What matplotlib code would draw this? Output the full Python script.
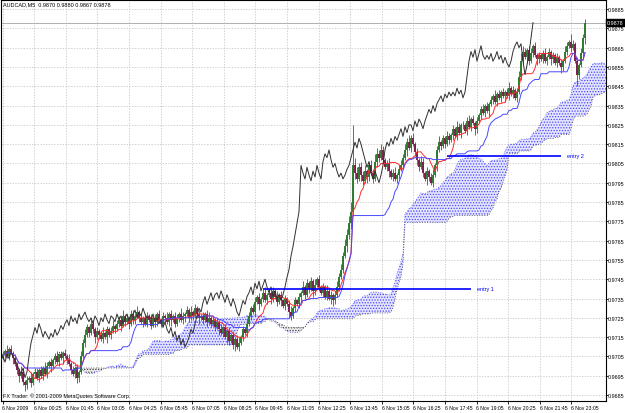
import numpy as np
import pandas as pd
import matplotlib
matplotlib.use("Agg")
import matplotlib.pyplot as plt

plt.rcParams["font.family"] = ["Liberation Sans Narrow", "Liberation Sans", "DejaVu Sans"]
plt.rcParams["hatch.linewidth"] = 0.6

# AUDCAD M5 closes, pips above 0.9700
closes = [
    6, 8, 5, 9, 7, 4, 1, -2, -5, -3, -8, -10, -7, -6, -9, -4,
    -3, -6, -2, -5, -1, -4, 0, 2, 0, 3, 5, 2, 6, 4, 7, 5, 3,
    1, -2, -4, -1, -6, -3, 5, 12, 16, 20, 17, 22, 19, 15, 18, 16,
    14, 17, 15, 19, 16, 18, 21, 19, 22, 24, 21, 26, 23, 25, 22, 27, 24, 26, 28, 25,
    23, 25, 22, 26, 24, 21, 25, 23, 27, 24, 22, 26, 25, 23, 27, 24, 26, 22, 25, 27, 24, 26,
    27, 29, 25, 28, 26, 30, 27, 25, 26, 24, 27, 23, 25, 22, 24, 20, 23, 19,
    17, 20, 15, 18, 13, 16, 11, 14, 10, 12, 15, 19, 17, 22,
    26, 30, 28, 33, 36, 32, 35, 38, 34, 37, 38, 35, 39, 36, 33, 37, 34, 31, 35, 32, 28,
    26, 30, 34, 32, 36, 38, 41, 37, 43, 40, 44, 39, 42, 45, 41,
    38, 41, 36, 39, 35, 37, 34, 37, 41, 46, 50, 57, 62, 68, 74, 80, 104,
    100, 97, 103, 99, 96, 101, 98, 104, 100, 97, 106, 110, 108, 112, 107, 103, 105,
    101, 98, 100, 97, 99, 102, 104, 108, 112, 116, 113, 118, 115, 111,
    107, 103, 106, 100, 97, 101, 98, 95, 99, 104,
    112, 116, 114, 118, 115, 119, 117, 120, 123, 119, 124, 121, 125,
    125, 122, 127, 124, 128, 126, 123, 127, 130, 133, 131, 135, 132, 136,
    138, 140, 137, 141, 139, 142, 140, 142, 140, 144, 141, 143, 139, 142,
    150, 158, 163, 160, 164, 158, 162, 166, 161, 159,
    161, 159, 162, 158, 160, 163, 159, 161, 157, 160, 157, 155, 158,
    163, 166, 168, 165, 167, 158, 151, 156, 162, 170, 178,
]
first_open = 4

wick_up = [
    2, 1, 3, 1, 2, 1, 2, 1, 1, 3, 2, 1, 2, 1, 3, 1, 2, 2, 1, 2,
    1, 3, 2, 1, 2, 1, 2, 3, 1, 2, 1, 2, 1, 3, 1, 2, 1, 2, 1, 3,
    2, 3, 2, 1, 3, 2, 1, 2, 1, 2, 3, 1, 2, 1, 2, 3, 1, 2, 2, 1,
    3, 1, 2, 1, 2, 2, 1, 3, 1, 2, 1, 2, 2, 1, 3, 1, 2, 1, 2, 1,
    2, 1, 3, 1, 2, 1, 2, 2, 1, 3, 2, 1, 2, 1, 3, 1, 2, 1, 2, 1,
    2, 1, 2, 3, 1, 2, 1, 2, 1, 3, 1, 2, 1, 2, 1, 2, 1, 2, 3, 1,
    2, 1, 3, 2, 1, 2, 3, 1, 2, 1, 2, 3, 1, 2, 1, 2, 1, 3, 1, 2,
    1, 2, 1, 2, 3, 1, 2, 1, 2, 1, 3, 1, 2, 1, 2, 1, 3, 1, 2, 1,
    2, 1, 3, 1, 2, 1, 2, 3, 2, 3, 2, 4, 3, 4, 5, 21, 4, 3, 2, 3,
    2, 3, 1, 2, 3, 2, 4, 3, 2, 3, 2, 1, 2, 3, 1, 2, 3, 1, 2, 3,
    2, 3, 2, 4, 2, 3, 1, 2, 1, 3, 2, 1, 2, 1, 2, 3, 1, 2, 3, 1,
    2, 1, 3, 2, 1, 2, 1, 3, 2, 1, 2, 1, 2, 3, 1, 2, 1, 2, 1, 2,
    3, 1, 2, 1, 2, 1, 3, 1, 2, 1, 2, 1, 2, 3, 1, 2, 1, 2, 3, 4,
    3, 2, 1, 2, 3, 1, 2, 1, 2, 1, 2, 3, 1, 2, 1, 2, 1, 2, 1, 2,
    1, 3, 2, 1, 4, 2, 1, 2, 1, 3, 2, 2,
]
wick_dn = [
    1, 2, 1, 2, 1, 3, 1, 2, 3, 1, 2, 3, 2, 1, 2, 1, 2, 1, 2, 1,
    2, 1, 2, 1, 3, 1, 2, 1, 2, 1, 3, 1, 2, 1, 2, 1, 2, 3, 2, 1,
    1, 2, 1, 2, 1, 2, 3, 1, 2, 1, 2, 1, 3, 1, 2, 1, 2, 1, 2, 3,
    1, 2, 1, 3, 1, 2, 2, 1, 2, 1, 3, 1, 2, 1, 2, 1, 3, 2, 1, 2,
    1, 2, 1, 2, 3, 1, 2, 1, 2, 1, 2, 3, 1, 2, 1, 2, 1, 2, 3, 1,
    2, 1, 3, 1, 2, 1, 2, 1, 3, 1, 2, 1, 3, 2, 1, 2, 3, 1, 2, 1,
    2, 1, 2, 1, 2, 1, 2, 1, 3, 1, 2, 1, 2, 1, 3, 2, 1, 2, 1, 3,
    1, 2, 1, 3, 2, 1, 2, 1, 2, 3, 1, 2, 1, 2, 1, 3, 2, 1, 2, 1,
    2, 1, 2, 1, 3, 3, 2, 1, 2, 1, 2, 1, 3, 2, 3, 2, 3, 2, 1, 3,
    2, 1, 3, 2, 1, 2, 1, 3, 2, 1, 2, 1, 2, 3, 1, 2, 1, 2, 2, 1,
    2, 1, 3, 1, 2, 1, 2, 3, 2, 1, 2, 1, 3, 2, 1, 2, 1, 3, 1, 2,
    1, 2, 1, 2, 1, 3, 1, 2, 1, 3, 2, 1, 2, 1, 2, 1, 3, 2, 1, 2,
    1, 2, 1, 3, 1, 2, 1, 2, 1, 2, 1, 3, 1, 2, 1, 2, 1, 2, 1, 2,
    2, 1, 3, 2, 1, 2, 1, 3, 2, 1, 2, 1, 2, 1, 3, 2, 1, 2, 1, 3,
    2, 1, 2, 1, 2, 1, 1, 6, 2, 1, 2, 3,
]

time_labels = ["6 Nov 2009", "6 Nov 00:25", "6 Nov 01:45", "6 Nov 03:05",
               "6 Nov 04:25", "6 Nov 05:45", "6 Nov 07:05", "6 Nov 08:25",
               "6 Nov 09:45", "6 Nov 11:05", "6 Nov 12:25", "6 Nov 13:45",
               "6 Nov 15:05", "6 Nov 16:25", "6 Nov 17:45", "6 Nov 19:05",
               "6 Nov 20:25", "6 Nov 21:45", "6 Nov 23:05"]
price_labels = ["0.9685", "0.9695", "0.9705", "0.9715", "0.9725", "0.9735",
                "0.9745", "0.9755", "0.9765", "0.9775", "0.9785", "0.9795",
                "0.9805", "0.9815", "0.9825", "0.9835", "0.9845", "0.9855",
                "0.9865", "0.9875", "0.9885"]

entry_names = ["entry 1", "entry 2"]
entry_prices = [0.9740, 0.9809]
entry_from = [130, 222]   # bar index where each line starts
entry_to = [234, 279]     # bar index where each line ends

header = "AUDCAD,M5  0.9870 0.9880 0.9867 0.9878"

# --- OHLC ---
pip = 0.0001
c = 0.97 + np.array(closes) * pip
o = np.r_[0.97 + first_open * pip, c[:-1]]
hi = np.maximum(o, c) + np.array(wick_up) * pip
lo = np.minimum(o, c) - np.array(wick_dn) * pip
n = len(c)
idx = np.arange(n)

# --- Ichimoku (9, 26, 52) ---
H = pd.Series(hi)
L = pd.Series(lo)
tenkan = (H.rolling(9, min_periods=1).max() + L.rolling(9, min_periods=1).min()) / 2
kijun = (H.rolling(26, min_periods=1).max() + L.rolling(26, min_periods=1).min()) / 2
span_a = ((tenkan + kijun) / 2).to_numpy(dtype=float)
span_b = ((H.rolling(52, min_periods=1).max() + L.rolling(52, min_periods=1).min()) / 2).to_numpy(dtype=float)

fig = plt.figure(figsize=(6.25, 4.14), dpi=100)
ax = fig.add_axes([1 / 625, 12 / 414, 605 / 625, 401 / 414])

# cloud: dotted fill between the spans, shifted 26 bars ahead
xc = (idx + 26).astype(float)
bull = span_a >= span_b
ax.fill_between(xc, span_a, span_b, where=bull, interpolate=True,
                facecolor="#e4e4ff", edgecolor="#4a4aff", hatch="......",
                lw=0, zorder=1)
ax.fill_between(xc, span_a, span_b, where=~bull, interpolate=True,
                facecolor="#ececec", edgecolor="#404040", hatch="......",
                lw=0, zorder=1)
ax.plot(xc, span_a, color="#5050ff", lw=0.6, ls=(0, (1, 2)), zorder=1.5)
ax.plot(xc, span_b, color="#404040", lw=0.6, ls=(0, (1, 2)), zorder=1.5)

# candles
up = c >= o
ax.vlines(idx, lo, hi, colors="#505050", lw=0.6, zorder=3)
ax.vlines(idx[up], o[up], c[up], colors="#2f7a2f", lw=1.4, zorder=4)
ax.vlines(idx[~up], c[~up], o[~up], colors="#7d1f4d", lw=1.4, zorder=4)

# lines
ax.plot(idx, tenkan, color="#ff2a2a", lw=0.7, zorder=5)
ax.plot(idx, kijun, color="#4848ff", lw=0.7, zorder=5)
ax.plot(idx - 26, c, color="#303030", lw=0.7, zorder=5)

# entry lines
for name, p, x0, x1 in zip(entry_names, entry_prices, entry_from, entry_to):
    ax.hlines(p, x0, x1, colors="#0000ff", lw=1.2, zorder=6)
    ax.text(x1 + 3, p, name, color="#0000ff", fontsize=4, va="center")

# bid line
ax.axhline(c[-1], color="#b0b0b0", lw=0.7, zorder=0.5)

ax.set_xlim(-1, 301.5)
ax.set_ylim(0.96819, 0.98897)

price_pos = [float(s) for s in price_labels]
ax.yaxis.tick_right()
ax.set_yticks(price_pos)
ax.set_yticklabels(price_labels, fontsize=3.9)
ax.tick_params(axis="y", length=1.2, pad=0.4, width=0.6)

tick_pos = [15.8 * k - 0.25 for k in range(len(time_labels))]
ax.set_xticks(tick_pos)
ax.set_xticklabels(time_labels, fontsize=3.7, ha="left")
ax.tick_params(axis="x", length=2, pad=0.8, width=0.6)

ax.grid(True, color="#c8bcbc", lw=0.5, ls=(0, (2, 2)))
ax.set_axisbelow(True)
for s in ax.spines.values():
    s.set_linewidth(0.8)

# bid price box
ax.text(1.002, c[-1], f"{c[-1]:.4f}", transform=ax.get_yaxis_transform(),
        fontsize=3.9, color="white", va="center", ha="left",
        bbox=dict(boxstyle="square,pad=0.15", fc="black", ec="black"))

fig.text(3 / 625, 1 - 5 / 414, header, fontsize=4, va="center")
ax.text(0.004, 0.008, "FX Trader: \u00a9 2001-2009 MetaQuotes Software Corp.",
        transform=ax.transAxes, fontsize=3.9, va="bottom")

fig.savefig("out.png", dpi=100)
